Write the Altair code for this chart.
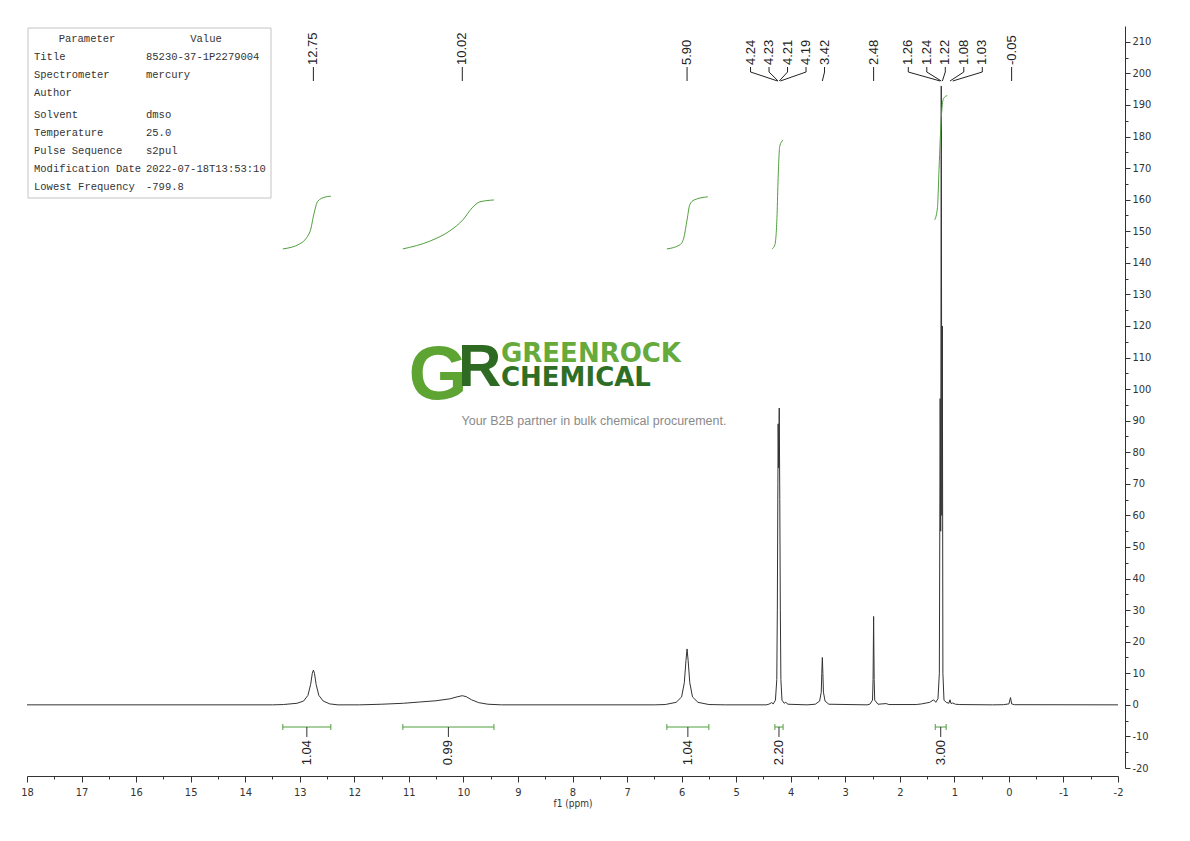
import altair as alt
import pandas as pd

# 1H spectrum trace: chemical shift (ppm) and intensity
shift = [18.0, 13.5, 13.3, 13.05, 12.93, 12.85, 12.80, 12.77, 12.75, 12.73, 12.70, 12.65, 12.57, 12.45, 12.3,
         11.9, 11.5, 11.1, 10.8, 10.5, 10.25, 10.1, 10.02, 9.95, 9.85, 9.72, 9.55, 9.3,
         6.5, 6.3, 6.1, 6.0, 5.95, 5.92, 5.90, 5.88, 5.85, 5.80, 5.70, 5.5, 5.2,
         4.45, 4.40, 4.35, 4.32, 4.28, 4.255, 4.245, 4.235, 4.23, 4.22, 4.21, 4.20, 4.19, 4.18, 4.16,
         4.12, 4.09, 4.05, 3.7, 3.55, 3.47, 3.44, 3.43, 3.42, 3.41, 3.40, 3.37, 3.3,
         2.6, 2.55, 2.50, 2.49, 2.48, 2.47, 2.46, 2.40, 2.25, 2.2,
         1.7, 1.6, 1.45, 1.38, 1.34, 1.30, 1.275, 1.26, 1.25, 1.24, 1.23, 1.22, 1.21, 1.19, 1.15,
         1.10, 1.08, 1.06, 1.03, 0.98, 0.9, 0.3, 0.1, 0.0, -0.03, -0.05, -0.1, -2.0]
intensity = [0, 0, 0.1, 0.5, 1.2, 3, 6.5, 10, 11, 10, 6.5, 3, 1.2, 0.3, 0,
             0, 0.2, 0.5, 0.9, 1.3, 1.9, 2.6, 2.9, 2.6, 1.6, 0.7, 0.2, 0,
             0, 0.1, 0.8, 2.5, 7, 14, 17.7, 14, 7, 2.5, 0.8, 0.1, 0,
             0, 0.2, 0.7, 0.3, 1.5, 8, 30, 70, 89, 75, 94, 65, 30, 8, 1.5,
             0.5, 0.8, 0.2, 0, 0.2, 1.2, 4, 10, 15, 10, 4, 1.2, 0.2,
             0, 0.2, 1.5, 8, 28, 8, 1.5, 0.2, 0.4, 0.1,
             0.1, 0.3, 0.8, 1.6, 0.8, 2, 10, 97, 55, 196, 60, 120, 10, 1.5, 0.8,
             0.5, 1.6, 0.4, 0.6, 0.2, 0.1, 0, 0.05, 0.3, 2.3, 0.3, 0.05, 0]

# integral curves (drawn on the intensity axis)
curve_id = [1] * 7 + [2] * 7 + [3] * 7 + [4] * 6 + [5] * 6
curve_ppm = [13.31, 13.0, 12.81, 12.74, 12.67, 12.54, 12.43,
             11.11, 10.61, 10.25, 10.01, 9.84, 9.70, 9.44,
             6.27, 6.03, 5.96, 5.90, 5.85, 5.77, 5.52,
             4.34, 4.29, 4.25, 4.23, 4.20, 4.14,
             1.36, 1.31, 1.28, 1.24, 1.20, 1.13]
curve_val = [144.4, 146.0, 150.0, 155.5, 159.5, 160.8, 161.1,
             144.4, 146.9, 150.1, 153.6, 157.4, 159.3, 159.9,
             144.4, 145.7, 147.9, 153.6, 158.4, 159.9, 160.9,
             144.4, 145.7, 155.2, 167.0, 177.0, 178.9,
             153.6, 157.4, 170.0, 185.8, 192.0, 193.0]

# integration ranges
range_from = [13.31, 11.11, 6.27, 4.29, 1.35]
range_to = [12.43, 9.44, 5.50, 4.14, 1.15]
range_label = ["1.04", "0.99", "1.04", "2.20", "3.00"]

# picked peaks
peaks = [12.75, 10.02, 5.90, 4.24, 4.23, 4.21, 4.19, 3.42, 2.48, 1.26, 1.24, 1.22, 1.08, 1.03, -0.05]

# acquisition parameters
param_names = ["Title", "Spectrometer", "Author", "Solvent", "Temperature", "Pulse Sequence",
               "Modification Date", "Lowest Frequency"]
param_values = ["85230-37-1P2279004", "mercury", "", "dmso", "25.0", "s2pul",
                "2022-07-18T13:53:10", "-799.8"]

W, H = 1091, 742
TICK_FONT = "Liberation Sans Narrow, DejaVu Sans Condensed, sans-serif"
LINE = "#333333"
GREEN = "#4e9f3d"


def spread(targets, gap):
    """Push peak labels apart so neighbours keep at least `gap` ppm between them."""
    clusters = []
    for t in targets:
        clusters.append([t])
        while len(clusters) > 1:
            a, b = clusters[-2], clusters[-1]
            last_a = sum(a) / len(a) - (len(a) - 1) / 2 * gap
            first_b = sum(b) / len(b) + (len(b) - 1) / 2 * gap
            if last_a - first_b < gap:
                clusters[-2:] = [a + b]
            else:
                break
    out = []
    for c in clusters:
        m = sum(c) / len(c)
        out += [m + ((len(c) - 1) / 2 - i) * gap for i in range(len(c))]
    return out


xs = alt.Scale(domain=[-2, 18], reverse=True, nice=False, zero=False)
ys = alt.Scale(domain=[-20, 215], nice=False, zero=False)

spec_df = pd.DataFrame({"ppm": shift, "intensity": intensity})
curve_df = pd.DataFrame({"region": curve_id, "ppm": curve_ppm, "value": curve_val})
range_df = pd.DataFrame({"from": range_from, "to": range_to, "label": range_label})
range_df["mid"] = (range_df["from"] + range_df["to"]) / 2
peak_df = pd.DataFrame({"ppm": peaks, "label": [f"{p:.2f}" for p in peaks]})
peak_df["pos"] = spread(peaks, 18.5 * 20 / W)
one = pd.DataFrame({"k": [0]})

x_axis = alt.Axis(
    values=[v / 2 for v in range(-4, 37)],
    labelExpr="datum.value % 1 ? '' : '' + datum.value",
    tickSize={"condition": {"test": "datum.value % 1 != 0", "value": 3}, "value": 6},
    offset=8, grid=False, title="f1 (ppm)", titleFont=TICK_FONT, titleFontSize=10,
    titleFontWeight="normal", titleColor=LINE, titlePadding=1,
    labelFont=TICK_FONT, labelFontSize=11, labelColor=LINE, labelPadding=4,
    domainColor=LINE, tickColor=LINE, labelFlush=False,
)
y_axis = alt.Axis(
    orient="right", values=list(range(-20, 215, 5)),
    labelExpr="datum.value % 10 ? '' : '' + datum.value",
    tickSize={"condition": {"test": "datum.value % 10 != 0", "value": 3}, "value": 5},
    offset=7, grid=False, title=None,
    labelFont=TICK_FONT, labelFontSize=11, labelColor=LINE, labelPadding=2,
    domainColor=LINE, tickColor=LINE, labelFlush=False,
)


def X(field):
    return alt.X(field, scale=xs, axis=x_axis)


def Y(field):
    return alt.Y(field, scale=ys, axis=y_axis)


spectrum = alt.Chart(spec_df).mark_line(color=LINE, strokeWidth=1).encode(
    x=X("ppm:Q"), y=Y("intensity:Q"))

curves = alt.Chart(curve_df).mark_line(color=GREEN, strokeWidth=1, interpolate="monotone").encode(
    x=X("ppm:Q"), y=Y("value:Q"), detail="region:N")

base_r = alt.Chart(range_df)
bar = base_r.mark_rule(color=GREEN, strokeWidth=1).encode(
    x=X("from:Q"), x2="to:Q", y=alt.value(701))
cap_l = base_r.mark_rule(color=GREEN, strokeWidth=1).encode(
    x=X("from:Q"), y=alt.value(698), y2=alt.value(704))
cap_r = base_r.mark_rule(color=GREEN, strokeWidth=1).encode(
    x=X("to:Q"), y=alt.value(698), y2=alt.value(704))
mid_tick = base_r.mark_rule(color=LINE, strokeWidth=1).encode(
    x=X("mid:Q"), y=alt.value(701), y2=alt.value(711))
range_text = base_r.mark_text(angle=270, align="right", baseline="middle",
                              font="Liberation Sans", fontSize=13, color="#222222").encode(
    x=X("mid:Q"), y=alt.value(714), text="label:N")

base_p = alt.Chart(peak_df)
peak_text = base_p.mark_text(angle=270, align="left", baseline="middle",
                             font="Liberation Sans", fontSize=13, color="#222222").encode(
    x=X("pos:Q"), y=alt.value(39), text="label:N")
leg = base_p.mark_rule(color="#222222", strokeWidth=1).encode(
    x=X("pos:Q"), y=alt.value(41), y2=alt.value(46))
diag = base_p.mark_rule(color="#222222", strokeWidth=1).encode(
    x=X("pos:Q"), x2="ppm:Q", y=alt.value(46), y2=alt.value(55))

# parameter table: two blocks, the second one after the (empty) Author row
split = 3
table_df = pd.DataFrame({
    "names": ["\n".join(param_names[:split]), "\n".join(param_names[split:])],
    "values": ["\n".join(param_values[:split]), "\n".join(param_values[split:])],
    "top": [31, 89],
})
mono = dict(font="Liberation Mono, DejaVu Sans Mono, monospace", fontSize=10.5, color="#333333")
box = alt.Chart(one).mark_rect(fill="white", stroke="#c4c4c4", strokeWidth=1).encode(
    x=alt.value(1), x2=alt.value(244), y=alt.value(2), y2=alt.value(172))
head1 = alt.Chart(one).mark_text(text="Parameter", align="center", baseline="middle", **mono).encode(
    x=alt.value(60), y=alt.value(13))
head2 = alt.Chart(one).mark_text(text="Value", align="center", baseline="middle", **mono).encode(
    x=alt.value(179), y=alt.value(13))
blocks = []
for i in range(len(table_df)):
    row = table_df.iloc[[i]]
    for col, xpos in (("names", 7), ("values", 119)):
        blocks.append(
            alt.Chart(row).mark_text(align="left", baseline="middle", lineBreak="\n",
                                     lineHeight=18, **mono).encode(
                x=alt.value(xpos), y=alt.value(int(row["top"].iloc[0])), text=f"{col}:N"))

# watermark logo
logo_g = alt.Chart(one).mark_text(text="G", font="Liberation Sans", fontWeight="bold", fontSize=76,
                                  color="#5ea433", align="center", baseline="alphabetic").encode(
    x=alt.value(411), y=alt.value(373))
logo_r = alt.Chart(one).mark_text(text="R", font="Liberation Sans", fontWeight="bold", fontSize=60,
                                  color="#2f6a22", align="left", baseline="alphabetic").encode(
    x=alt.value(431), y=alt.value(360))
logo_1 = alt.Chart(one).mark_text(text="GREENROCK", font="DejaVu Sans", fontWeight="bold", fontSize=26,
                                  color="#66aa3c", align="left", baseline="alphabetic").encode(
    x=alt.value(474), y=alt.value(336))
logo_2 = alt.Chart(one).mark_text(text="CHEMICAL", font="DejaVu Sans", fontWeight="bold", fontSize=26,
                                  color="#2f6e25", align="left", baseline="alphabetic").encode(
    x=alt.value(474), y=alt.value(360))
tagline = alt.Chart(one).mark_text(text="Your B2B partner in bulk chemical procurement.",
                                   font="Liberation Sans", fontSize=12.5, color="#8a8a8a",
                                   align="center", baseline="middle").encode(
    x=alt.value(567), y=alt.value(395))

chart = alt.layer(
    box, head1, head2, *blocks, logo_g, logo_r, logo_1, logo_2, tagline,
    spectrum, curves, bar, cap_l, cap_r, mid_tick, range_text, leg, diag, peak_text,
).properties(
    width=W, height=H,
    autosize=alt.AutoSizeParams(type="none"),
    padding={"left": 19, "top": 18, "right": 60, "bottom": 50},
).configure_view(strokeWidth=0)

chart.save("out.html", embed_options={"renderer": "svg", "actions": False})
